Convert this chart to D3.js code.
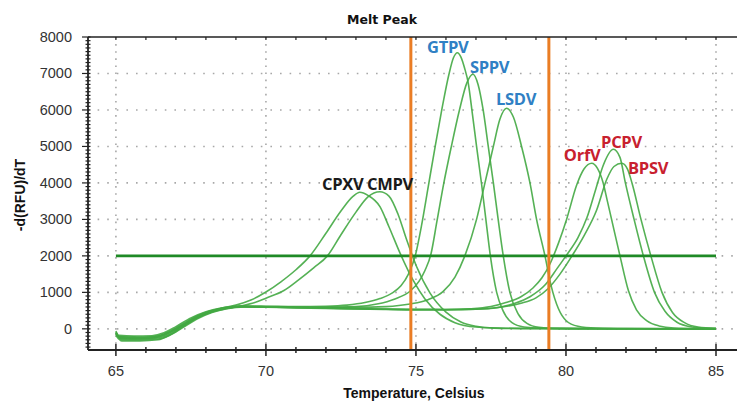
<!DOCTYPE html>
<html>
<head>
<meta charset="utf-8">
<script src="https://cdn.jsdelivr.net/npm/d3@7.9.0/dist/d3.min.js"></script>
<style>
  body { margin: 0; background: #fff; }
  svg { display: block; }
  .tick-label { font-family: "Liberation Sans", Arial, sans-serif; font-size: 14.5px; fill: #333; }
  .axis-title { font-family: "Liberation Sans", Arial, sans-serif; font-size: 14px; font-weight: bold; fill: #111; }
  .peak-label { font-family: "Open Sans", sans-serif; font-size: 16.5px; font-weight: bold; letter-spacing: -0.3px; }
</style>
</head>
<body>
<svg id="chart" width="737" height="401"></svg>
<script>
// melt peak curves, [temperature, -d(RFU)/dT]
const cpxv = [[65.0,-120],[65.15,-250],[65.6,-260],[66.2,-250],[66.6,-180],[67.0,-20],[67.5,230],[68.0,430],[68.5,560],[69.0,650],[69.5,790],[70.0,1010],[70.5,1290],[71.0,1620],[71.47,2000],[72.0,2620],[72.5,3230],[72.9,3630],[73.13,3745],[73.4,3660],[73.8,3350],[74.1,2800],[74.47,2075],[74.9,1340],[75.3,820],[75.8,400],[76.3,170],[77.0,50],[78.0,15],[80.0,5],[85.0,0]];
const cmpv = [[65.0,-180],[65.2,-330],[65.8,-330],[66.4,-300],[66.8,-170],[67.2,40],[67.7,290],[68.2,460],[68.7,560],[69.2,630],[69.7,740],[70.0,840],[70.6,1050],[71.1,1350],[71.6,1680],[72.05,2000],[72.5,2580],[73.0,3200],[73.4,3620],[73.8,3760],[74.1,3640],[74.4,3150],[74.69,2440],[75.02,1710],[75.47,980],[76.0,460],[76.5,190],[77.0,70],[77.6,20],[79.0,5],[85.0,0]];
const gtpv = [[65.0,-90],[65.1,-210],[65.7,-230],[66.3,-210],[66.7,-110],[67.1,70],[67.6,310],[68.1,480],[68.6,580],[69.2,625],[70.0,620],[71.0,610],[72.0,620],[72.7,650],[73.3,720],[73.8,830],[74.2,980],[74.5,1180],[74.75,1500],[74.97,1980],[75.19,2850],[75.41,3900],[75.63,4950],[75.86,6000],[76.1,6980],[76.25,7430],[76.38,7570],[76.5,7450],[76.62,7150],[76.74,6750],[76.88,5900],[77.02,5000],[77.19,3950],[77.33,3000],[77.48,2000],[77.69,1000],[77.9,500],[78.2,170],[78.6,50],[79.2,15],[80.5,5],[85.0,0]];
const sppv = [[65.0,-130],[65.15,-270],[65.8,-280],[66.4,-250],[66.8,-140],[67.2,60],[67.7,300],[68.2,470],[68.7,570],[69.3,610],[70.0,600],[71.0,590],[72.0,590],[73.0,610],[73.7,680],[74.3,820],[74.8,1030],[75.1,1300],[75.3,1600],[75.5,2050],[75.7,2950],[75.93,4000],[76.18,5000],[76.45,6000],[76.7,6750],[76.9,6980],[77.07,6700],[77.24,6000],[77.41,5000],[77.58,4000],[77.74,3000],[77.91,2000],[78.13,1000],[78.4,420],[78.7,150],[79.1,40],[79.6,12],[81.0,4],[85.0,0]];
const lsdv = [[65.0,-60],[65.1,-180],[65.6,-200],[66.2,-190],[66.6,-110],[67.0,60],[67.5,300],[68.0,470],[68.5,570],[69.1,620],[70.0,610],[71.0,600],[72.0,590],[73.0,590],[74.0,610],[74.8,680],[75.4,800],[75.9,1020],[76.3,1420],[76.63,2000],[77.02,3000],[77.3,4000],[77.58,5000],[77.8,5750],[78.02,6045],[78.25,5800],[78.52,5000],[78.8,4000],[79.02,3000],[79.3,2000],[79.5,1200],[79.75,550],[80.0,230],[80.4,70],[81.0,20],[82.0,5],[85.0,0]];
const orfv = [[65.0,-110],[65.15,-240],[65.7,-250],[66.3,-230],[66.7,-130],[67.1,40],[67.6,280],[68.1,460],[68.6,560],[69.2,610],[70.0,600],[71.0,585],[72.0,570],[73.0,555],[74.0,540],[75.0,530],[76.0,530],[76.8,550],[77.5,610],[78.0,720],[78.5,880],[78.9,1120],[79.2,1400],[79.45,1750],[79.75,2350],[80.02,3000],[80.36,3950],[80.6,4380],[80.86,4540],[81.05,4400],[81.24,4000],[81.38,3500],[81.52,3000],[81.8,2000],[82.08,1050],[82.35,520],[82.7,220],[83.1,80],[83.6,25],[84.5,8],[85.0,5]];
const pcpv = [[65.0,-140],[65.2,-290],[65.8,-300],[66.4,-280],[66.8,-170],[67.2,20],[67.7,270],[68.2,450],[68.7,555],[69.3,600],[70.0,590],[71.0,575],[72.0,560],[73.0,545],[74.0,530],[75.0,520],[76.0,520],[77.0,535],[77.7,580],[78.3,700],[78.8,880],[79.3,1200],[79.7,1650],[80.0,2000],[80.4,2500],[80.7,3050],[81.0,3850],[81.25,4500],[81.58,4923],[81.8,4700],[81.98,4000],[82.27,3000],[82.58,2000],[82.95,1000],[83.3,480],[83.7,180],[84.2,50],[84.7,15],[85.0,10]];
const bpsv = [[65.0,-100],[65.1,-220],[65.7,-240],[66.3,-220],[66.7,-120],[67.1,50],[67.6,290],[68.1,465],[68.6,565],[69.2,605],[70.0,595],[71.0,580],[72.0,565],[73.0,550],[74.0,540],[75.0,535],[76.0,530],[77.0,540],[77.8,590],[78.5,700],[79.0,850],[79.4,1100],[79.8,1500],[80.2,2000],[80.6,2550],[81.02,3250],[81.36,4100],[81.6,4450],[81.86,4540],[82.05,4380],[82.2,4000],[82.5,3000],[82.83,2000],[83.2,1000],[83.55,450],[83.95,170],[84.4,50],[85.0,15]];

const curves = [cpxv, cmpv, gtpv, sppv, lsdv, orfv, pcpv, bpsv];

// peak labels: name, left edge temp / baseline value, colour
const labelNames = ["CPXV", "CMPV", "GTPV", "SPPV", "LSDV", "OrfV", "PCPV", "BPSV"];
const labelTemps = [71.87, 73.37, 75.37, 76.8, 77.67, 79.93, 81.17, 82.07];
const labelValues = [3806, 3806, 7561, 7013, 6135, 4600, 4957, 4244];
const labelColors = ["#1a1a1a", "#1a1a1a", "#2f80c4", "#2f80c4", "#2f80c4", "#c8202e", "#c8202e", "#c8202e"];

const xTicks = [65, 70, 75, 80, 85];
const yTicks = [0, 1000, 2000, 3000, 4000, 5000, 6000, 7000, 8000];
const threshold = 2000;
const markers = [74.83, 79.43];

const svg = d3.select("#chart");
const mLeft = 88, mRight = 737, mTop = 37, mBottom = 350;

const x = d3.scaleLinear().domain([64.07, 85.7]).range([mLeft, mRight]);
const y = d3.scaleLinear().domain([-580, 8000]).range([mBottom, mTop]);

// dotted grid
svg.append("g").selectAll("line").data(xTicks).join("line")
    .attr("x1", d => x(d)).attr("x2", d => x(d))
    .attr("y1", mTop).attr("y2", mBottom)
    .attr("stroke", "#a8a8a8").attr("stroke-width", 1.6)
    .attr("stroke-dasharray", "1.6,5.5");
svg.append("g").selectAll("line").data(yTicks.filter(d => d < 8000)).join("line")
    .attr("x1", mLeft).attr("x2", mRight)
    .attr("y1", d => y(d)).attr("y2", d => y(d))
    .attr("stroke", "#a8a8a8").attr("stroke-width", 1.6)
    .attr("stroke-dasharray", "1.6,8");

// melt curves
const line = d3.line()
    .x(d => x(d[0]))
    .y(d => y(d[1]))
    .curve(d3.curveMonotoneX);

svg.append("g").selectAll("path").data(curves).join("path")
    .attr("d", line)
    .attr("fill", "none")
    .attr("stroke", "#43a843")
    .attr("stroke-opacity", 0.9)
    .attr("stroke-width", 1.6);

// threshold line
svg.append("line")
    .attr("x1", x(65)).attr("x2", x(85))
    .attr("y1", y(threshold)).attr("y2", y(threshold))
    .attr("stroke", "#1f8a26").attr("stroke-width", 2.8);

// orange marker bars
svg.append("g").selectAll("line").data(markers).join("line")
    .attr("x1", d => x(d)).attr("x2", d => x(d))
    .attr("y1", mTop).attr("y2", mBottom)
    .attr("stroke", "#ea7d24").attr("stroke-width", 3);

// axes
const axisColor = "#222";
svg.append("line").attr("x1", mLeft).attr("x2", mRight).attr("y1", mTop).attr("y2", mTop)
    .attr("stroke", axisColor).attr("stroke-width", 1.6);
svg.append("line").attr("x1", mLeft).attr("x2", mRight).attr("y1", mBottom).attr("y2", mBottom)
    .attr("stroke", axisColor).attr("stroke-width", 1.8);
svg.append("line").attr("x1", mLeft).attr("x2", mLeft).attr("y1", mTop).attr("y2", mBottom)
    .attr("stroke", axisColor).attr("stroke-width", 1.8);

const xMinor = d3.range(65, 86, 1);
svg.append("g").selectAll("line").data(xMinor).join("line")
    .attr("x1", d => x(d)).attr("x2", d => x(d))
    .attr("y1", d => mBottom - (d % 5 === 0 ? 6 : 3))
    .attr("y2", d => mBottom + (d % 5 === 0 ? 6 : 3))
    .attr("stroke", axisColor).attr("stroke-width", 1.5);
svg.append("g").selectAll("line").data(xMinor).join("line")
    .attr("x1", d => x(d)).attr("x2", d => x(d))
    .attr("y1", mTop).attr("y2", mTop + 3)
    .attr("stroke", axisColor).attr("stroke-width", 1.2);

const yMinor = d3.range(-500, 8001, 100);
svg.append("g").selectAll("line").data(yMinor).join("line")
    .attr("x1", d => mLeft - (d % 1000 === 0 ? 6 : 2.5))
    .attr("x2", mLeft + 2.5)
    .attr("y1", d => y(d)).attr("y2", d => y(d))
    .attr("stroke", axisColor).attr("stroke-width", 1.2);

svg.append("g").selectAll("text").data(xTicks).join("text")
    .attr("class", "tick-label")
    .attr("x", d => x(d)).attr("y", 376)
    .attr("text-anchor", "middle")
    .text(d => d);
svg.append("g").selectAll("text").data(yTicks).join("text")
    .attr("class", "tick-label")
    .attr("x", 72).attr("y", d => y(d) + 5)
    .attr("text-anchor", "end")
    .text(d => d);

// titles
svg.append("text")
    .attr("x", 382).attr("y", 24)
    .attr("text-anchor", "middle")
    .style("font-family", "'DejaVu Sans', sans-serif")
    .style("font-size", "12.5px").style("font-weight", "bold").style("fill", "#111")
    .text("Melt Peak");
svg.append("text")
    .attr("class", "axis-title")
    .attr("x", 414).attr("y", 398)
    .attr("text-anchor", "middle")
    .text("Temperature, Celsius");
svg.append("text")
    .attr("class", "axis-title")
    .attr("transform", "translate(25,195) rotate(-90)")
    .attr("text-anchor", "middle")
    .text("-d(RFU)/dT");

// peak labels
svg.append("g").selectAll("text").data(labelNames).join("text")
    .attr("class", "peak-label")
    .attr("x", (d, i) => x(labelTemps[i]))
    .attr("y", (d, i) => y(labelValues[i]))
    .style("fill", (d, i) => labelColors[i])
    .text(d => d);
</script>
</body>
</html>
